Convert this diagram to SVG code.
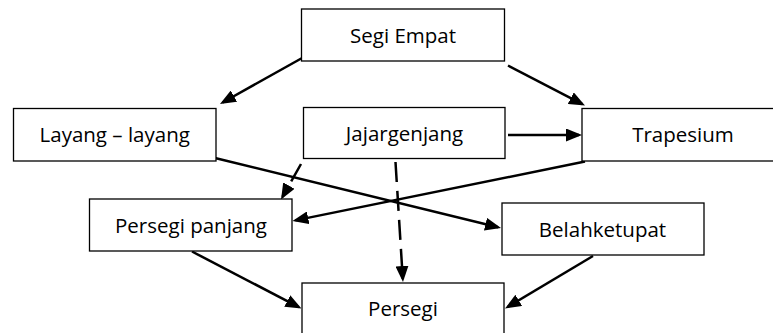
<svg xmlns="http://www.w3.org/2000/svg" width="773" height="333" viewBox="0 0 773 333">
<style>
.box{fill:#fff;stroke:#000;stroke-width:1.3}
.lbl{font-family:"Open Sans","Liberation Sans",sans-serif;font-size:20.5px;fill:#000;text-anchor:middle}
.edge{stroke:#000;stroke-width:2.5;fill:none;marker-end:url(#ah)}
.dash{stroke-dasharray:20 9}
</style>
<defs>
<marker id="ah" markerUnits="userSpaceOnUse" markerWidth="16" markerHeight="13" refX="13" refY="6.5" orient="auto">
<path d="M0,0 L16,6.5 L0,13 z" fill="#000"/>
</marker>
</defs>
<rect width="773" height="333" fill="#fff"/>
<g id="connectors">
<line class="edge" x1="303" y1="57.5" x2="222.6" y2="102.5"/>
<line class="edge" x1="508" y1="65.5" x2="582.3" y2="104.1"/>
<line class="edge" x1="508" y1="135" x2="579" y2="135"/>
<line class="edge" x1="215" y1="158" x2="498.1" y2="227.3"/>
<line class="edge" x1="585" y1="161.5" x2="295.4" y2="220.4"/>
<line class="edge dash" x1="301" y1="164" x2="282.5" y2="196.9"/>
<line class="edge dash" x1="395.5" y1="162" x2="402.8" y2="279"/>
<line class="edge" x1="192" y1="251.5" x2="298.8" y2="307.1"/>
<line class="edge" x1="593" y1="256" x2="507.6" y2="307"/>
</g>
<g id="segi-empat">
<rect class="box" x="301.5" y="9" width="203" height="52"/>
<text class="lbl" x="403" y="43.3">Segi Empat</text>
</g>
<g id="layang-layang">
<rect class="box" x="13.5" y="108.5" width="202.5" height="52.5"/>
<text class="lbl" x="114.7" y="142.3">Layang – layang</text>
</g>
<g id="jajargenjang">
<rect class="box" x="303.5" y="107.5" width="201.5" height="51"/>
<text class="lbl" x="404.5" y="141.3">Jajargenjang</text>
</g>
<g id="trapesium">
<rect class="box" x="582" y="108.5" width="203" height="52.5"/>
<text class="lbl" x="683" y="142">Trapesium</text>
</g>
<g id="persegi-panjang">
<rect class="box" x="89.5" y="199" width="202.5" height="52"/>
<text class="lbl" x="191" y="232.7">Persegi panjang</text>
</g>
<g id="belahketupat">
<rect class="box" x="502" y="203" width="202" height="52"/>
<text class="lbl" x="602.5" y="237.3">Belahketupat</text>
</g>
<g id="persegi">
<rect class="box" x="302" y="283" width="202" height="53"/>
<text class="lbl" x="403" y="315.5">Persegi</text>
</g>
</svg>
